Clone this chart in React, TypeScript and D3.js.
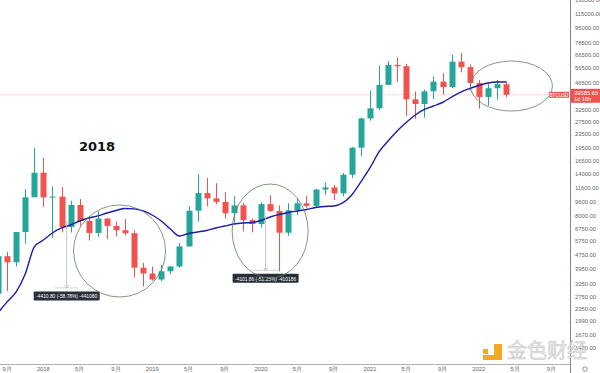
import { useEffect, useRef } from 'react';
import * as d3 from 'd3';

// monthly BTCUSD, Aug 2017 .. Apr 2022
const opens = [
  2871, 4703, 4338, 6468, 10233,
  14156, 10221, 10326, 6923, 9246, 7485, 6391, 7729, 7011, 6626, 6371, 4041,
  3742, 3457, 3854, 4105, 5350, 8574, 10817, 10085, 9630, 8293, 9199, 7569,
  7194, 9350, 8543, 6412, 8625, 9450, 9138, 11335, 11650, 10780, 13790, 19700,
  28990, 33110, 45140, 58790, 57720, 37300, 35040, 41460, 47100, 43820, 61300, 57000,
  46300, 38480, 43190, 45520,
];
const highs = [
  4736, 4980, 6470, 11400, 19666,
  17176, 11786, 11704, 9768, 9990, 7754, 8500, 7750, 7410, 7680, 6600, 4300,
  4100, 4200, 4130, 5600, 9100, 13880, 13200, 12330, 10950, 10370, 9530, 7750,
  9580, 10500, 9190, 9470, 10080, 10400, 11450, 12470, 12070, 14100, 19900, 29300,
  41950, 58350, 61800, 64850, 59600, 41300, 42300, 50500, 52950, 67000, 69000, 59100,
  47990, 45800, 48200, 47450,
];
const lows = [
  2671, 2972, 4108, 5555, 10900,
  9035, 5968, 6432, 6425, 7032, 5780, 6074, 5880, 6100, 6200, 3560, 3150,
  3400, 3390, 3700, 4040, 5330, 7440, 9080, 9320, 7710, 7300, 6515, 6435,
  6870, 8460, 3850, 6150, 8100, 8900, 8960, 10540, 9880, 10370, 13200, 17600,
  28130, 32300, 45000, 47000, 30000, 28800, 29300, 37330, 39600, 43300, 53250, 42000,
  32950, 34300, 37150, 38500,
];
const lastPrice = 39585.65;
const closes = [...opens.slice(1), lastPrice];

const maValues = [
  2224, 2573, 2933, 3720, 5312, 5823, 6390, 6826, 7100, 7483, 7790, 8000, 8320, 8600,
  8830, 8780, 8545, 8100, 7480, 6733, 6140, 6347, 6472, 6600, 6825, 7008, 7192, 7292,
  7339, 7536, 7893, 8156, 8376, 8545, 8712, 8943, 9062, 9127, 9496, 10550, 12530, 15070,
  18610, 21520, 24560, 27470, 30320, 32610, 34150, 35760, 38460, 41070, 43030, 44750,
  46240, 46880, 46880,
];

const yTicks = [
  138500, 115000, 95000, 78500, 66500, 56500, 46500, 32500, 27500, 23500, 19500, 16500,
  14000, 11600, 9600, 8000, 6750, 5750, 4750, 3950, 3250, 2750, 2350, 1990, 1670, 1400,
];

// month index (0 = Aug 2017) of each bottom label
const xTickIndex = [1, 5, 9, 13, 17, 21, 25, 29, 33, 37, 41, 45, 49, 53, 57, 61];
const xTickLabels = [
  '9月', '2018', '5月', '9月', '2019', '5月', '9月', '2020', '5月', '9月', '2021', '5月',
  '9月', '2022', '5月', '9月',
];

// measure tool: position between months, from/to price, label
const measureAt = [7.57, 29.5];
const measureFrom = [7503, 8003.6];
const measureTo = [3093, 3901.7];
const measureText = ['-4410.80 (-58.78%) -441080', '-4101.86 (-51.25%) -410186'];

// circled regions (centre month)
const circleAt = [13.4, 30];
const circleAtEnd = 56.6;

const GREEN = '#26a69a';
const RED = '#ef5350';
const FONT = 'Liberation Sans, Arial, sans-serif';

const App = () => {
  const svgRef = useRef<SVGSVGElement>(null);

  useEffect(() => {
    const svg = d3.select(svgRef.current).attr('width', 600).attr('height', 373);
    svg.selectAll('*').remove();

    const x = d3.scaleLinear().domain([0, 56]).range([-2, 506]);
    const y = d3.scaleLog().domain([115000, 1400]).range([14, 348]);
    const axisX = 570;
    const axisY = 364;

    svg.append('rect').attr('width', 600).attr('height', 373).attr('fill', '#fff');

    const plot = svg.append('g');

    // last price line
    plot
      .append('line')
      .attr('x1', 0)
      .attr('x2', axisX)
      .attr('y1', y(lastPrice))
      .attr('y2', y(lastPrice))
      .attr('stroke', RED)
      .attr('stroke-opacity', 0.45)
      .attr('stroke-dasharray', '1,1')
      .attr('stroke-width', 0.8);

    // candles
    const idx = d3.range(opens.length);
    const bw = 6;
    const candle = plot
      .selectAll('.candle')
      .data(idx)
      .enter()
      .append('g')
      .attr('class', 'candle');
    candle
      .append('line')
      .attr('x1', (i) => Math.round(x(i)) + 0.5)
      .attr('x2', (i) => Math.round(x(i)) + 0.5)
      .attr('y1', (i) => y(highs[i]))
      .attr('y2', (i) => y(lows[i]))
      .attr('stroke', (i) => (closes[i] >= opens[i] ? GREEN : RED))
      .attr('stroke-width', 1);
    candle
      .append('rect')
      .attr('x', (i) => Math.round(x(i)) + 0.5 - bw / 2)
      .attr('y', (i) => y(Math.max(opens[i], closes[i])))
      .attr('width', bw)
      .attr('height', (i) => Math.max(1, y(Math.min(opens[i], closes[i])) - y(Math.max(opens[i], closes[i]))))
      .attr('fill', (i) => (closes[i] >= opens[i] ? GREEN : RED));

    // moving average
    plot
      .append('path')
      .datum(maValues)
      .attr('fill', 'none')
      .attr('stroke', '#1c1ca6')
      .attr('stroke-width', 1.4)
      .attr(
        'd',
        d3
          .line<number>()
          .x((d, i) => x(i))
          .y((d) => y(d))
          .curve(d3.curveMonotoneX),
      );

    // measure lines
    measureAt.forEach((m, k) => {
      const mx = x(m);
      const y1 = y(measureFrom[k]);
      const y2 = y(measureTo[k]);
      plot
        .append('line')
        .attr('x1', mx)
        .attr('x2', mx)
        .attr('y1', y1)
        .attr('y2', y2)
        .attr('stroke', '#b8b8b8')
        .attr('stroke-width', 0.8);
      plot
        .append('line')
        .attr('x1', mx - 12)
        .attr('x2', mx + 12)
        .attr('y1', y2)
        .attr('y2', y2)
        .attr('stroke', '#c8c8c8')
        .attr('stroke-width', 0.8);
      plot
        .append('path')
        .attr('d', `M${mx - 2},${y2 - 3}L${mx},${y2}L${mx + 2},${y2 - 3}`)
        .attr('fill', 'none')
        .attr('stroke', '#b8b8b8')
        .attr('stroke-width', 0.8);
      const lw = 66;
      plot
        .append('rect')
        .attr('x', mx - lw / 2)
        .attr('y', y2 + 3.5)
        .attr('width', lw)
        .attr('height', 9)
        .attr('rx', 1)
        .attr('fill', '#2a2e39');
      plot
        .append('text')
        .attr('x', mx)
        .attr('y', y2 + 10.2)
        .attr('text-anchor', 'middle')
        .attr('font-family', FONT)
        .attr('font-size', 5.4)
        .attr('textLength', lw - 5)
        .attr('lengthAdjust', 'spacingAndGlyphs')
        .attr('fill', '#fff')
        .text(measureText[k]);
    });

    // circles
    const ellipse = (cx: number, cy: number, rx: number, ry: number) =>
      plot
        .append('ellipse')
        .attr('cx', cx)
        .attr('cy', cy)
        .attr('rx', rx)
        .attr('ry', ry)
        .attr('fill', 'none')
        .attr('stroke', '#5f7f5f')
        .attr('stroke-width', 0.8);
    ellipse(x(circleAt[0]), 251, 46, 46);
    ellipse(x(circleAt[1]), 231, 38, 47);
    ellipse(x(circleAtEnd), 86, 41, 25);

    // year label
    svg
      .append('text')
      .attr('x', 97)
      .attr('y', 151)
      .attr('text-anchor', 'middle')
      .attr('font-family', 'DejaVu Sans, sans-serif')
      .attr('font-weight', 'bold')
      .attr('font-size', 13)
      .attr('fill', '#111')
      .text('2018');

    // axes
    svg
      .append('line')
      .attr('x1', 0)
      .attr('x2', axisX)
      .attr('y1', axisY + 0.5)
      .attr('y2', axisY + 0.5)
      .attr('stroke', '#9a9a9a')
      .attr('stroke-width', 0.8);
    svg
      .append('line')
      .attr('x1', axisX + 0.5)
      .attr('x2', axisX + 0.5)
      .attr('y1', 0)
      .attr('y2', 373)
      .attr('stroke', '#666')
      .attr('stroke-width', 0.8);

    svg
      .append('g')
      .selectAll('text')
      .data(yTicks)
      .enter()
      .append('text')
      .attr('x', 575)
      .attr('y', (d) => y(d) + 2)
      .attr('font-family', FONT)
      .attr('font-size', 5.8)
      .attr('fill', '#666')
      .text((d) => d3.format('.2f')(d));

    svg
      .append('g')
      .selectAll('text')
      .data(xTickIndex)
      .enter()
      .append('text')
      .attr('x', (d) => x(d))
      .attr('y', 371)
      .attr('text-anchor', 'middle')
      .attr('font-family', FONT)
      .attr('font-size', 5.8)
      .attr('fill', '#666')
      .text((d, i) => xTickLabels[i]);

    // watermark (drawn over the axis labels, as in the screenshot)
    const wm = svg.append('g');
    wm.append('rect').attr('x', 483).attr('y', 349).attr('width', 5).attr('height', 5).attr('fill', '#f5a623');
    wm.append('rect').attr('x', 494).attr('y', 344).attr('width', 8).attr('height', 16).attr('fill', '#f5a623');
    wm.append('rect').attr('x', 483).attr('y', 355).attr('width', 19).attr('height', 5).attr('fill', '#f5a623');
    wm.append('text')
      .attr('x', 507)
      .attr('y', 358)
      .attr('font-family', 'Noto Sans CJK SC, sans-serif')
      .attr('font-size', 20)
      .attr('fill', '#e6e6e6')
      .attr('fill-opacity', 0.85)
      .attr('stroke', '#c4c4c4')
      .attr('stroke-width', 0.5)
      .text('金色财经');

    // price tags
    const py = y(lastPrice);
    svg.append('rect').attr('x', 571).attr('y', py - 6).attr('width', 29).attr('height', 14).attr('fill', RED);
    svg
      .append('text')
      .attr('x', 574)
      .attr('y', py + 0.5)
      .attr('font-family', FONT)
      .attr('font-size', 5.8)
      .attr('fill', '#fff')
      .text(d3.format('.2f')(lastPrice));
    svg
      .append('text')
      .attr('x', 574)
      .attr('y', py + 6.5)
      .attr('font-family', FONT)
      .attr('font-size', 5.6)
      .attr('fill', '#fff')
      .text('1d 16h');
    svg.append('rect').attr('x', 549).attr('y', py - 3).attr('width', 20).attr('height', 6).attr('fill', RED);
    svg
      .append('text')
      .attr('x', 559)
      .attr('y', py + 1.8)
      .attr('text-anchor', 'middle')
      .attr('font-family', FONT)
      .attr('font-size', 4.6)
      .attr('fill', '#fff')
      .text('BTCUSD');

    // settings glyph at the axis corner
    svg
      .append('circle')
      .attr('cx', 585)
      .attr('cy', 369)
      .attr('r', 2.2)
      .attr('fill', 'none')
      .attr('stroke', '#666')
      .attr('stroke-width', 0.7);
  }, []);

  return <svg ref={svgRef} style={{ position: 'absolute', left: 0, top: 0, display: 'block' }}></svg>;
};

export default App;
